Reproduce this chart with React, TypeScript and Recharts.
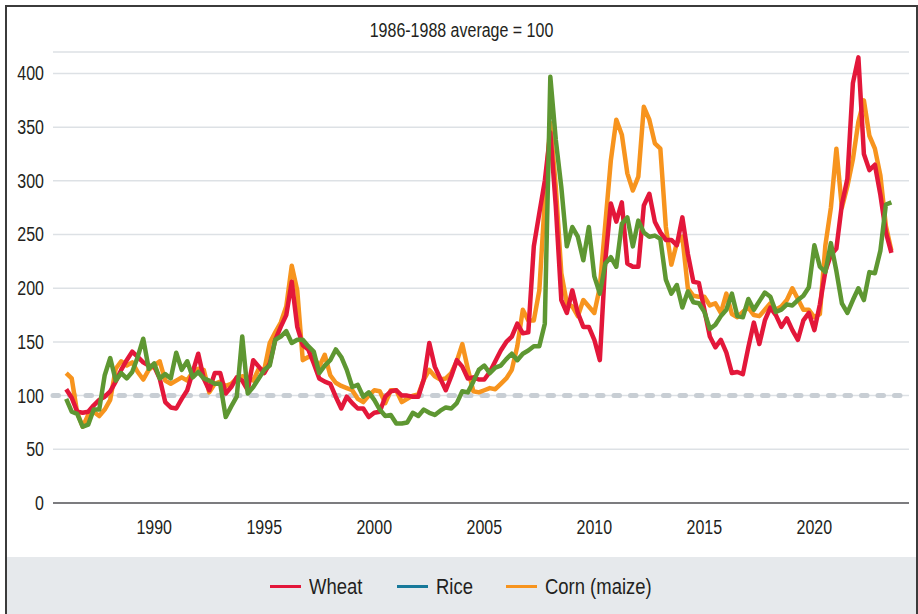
import { LineChart, Line, XAxis, YAxis, CartesianGrid, ReferenceLine } from "recharts";

// one row per year, four quarterly readings (2023 ends after Q3)
const years = [
  1986, 1987, 1988, 1989, 1990, 1991, 1992, 1993, 1994, 1995, 1996, 1997, 1998,
  1999, 2000, 2001, 2002, 2003, 2004, 2005, 2006, 2007, 2008, 2009, 2010, 2011,
  2012, 2013, 2014, 2015, 2016, 2017, 2018, 2019, 2020, 2021, 2022, 2023,
];

const wheat = [
  [106, 98, 85, 84], [85, 91, 96, 99], [104, 113, 124, 133], [141, 136, 131, 128],
  [127, 116, 94, 89], [88, 97, 105, 122], [139, 116, 105, 121], [121, 102, 108, 117],
  [114, 105, 133, 127], [121, 130, 152, 164], [175, 206, 164, 147], [143, 130, 116, 113],
  [111, 99, 88, 99], [93, 88, 88, 80], [84, 85, 99, 104], [105, 100, 100, 99],
  [99, 115, 149, 127], [116, 105, 118, 133], [127, 116, 117, 115], [115, 122, 132, 142],
  [150, 155, 167, 158], [159, 239, 270, 300], [345, 276, 189, 177], [198, 177, 164, 164],
  [152, 133, 226, 279], [262, 280, 223, 220], [220, 277, 288, 262], [252, 245, 245, 240],
  [266, 232, 206, 205], [180, 155, 145, 152], [140, 121, 122, 120], [145, 168, 148, 170],
  [182, 175, 164, 172], [161, 152, 170, 177], [161, 185, 216, 231], [237, 278, 302, 391],
  [415, 325, 310, 315], [287, 252, 233],
];

const rice = [
  [97, 85, 83, 71], [73, 87, 87, 119], [135, 114, 121, 116], [122, 136, 153, 125],
  [130, 116, 120, 116], [140, 124, 132, 117], [122, 116, 114, 111], [111, 80, 90, 99],
  [155, 102, 108, 116], [124, 128, 152, 155], [160, 149, 152, 152], [146, 141, 121, 128],
  [133, 143, 136, 124], [108, 110, 99, 103], [96, 87, 81, 82], [74, 74, 75, 84],
  [81, 87, 84, 82], [86, 89, 88, 93], [104, 103, 113, 124], [128, 121, 126, 128],
  [134, 139, 133, 139], [142, 146, 146, 167], [397, 338, 294, 239], [257, 248, 226, 257],
  [211, 195, 223, 229], [220, 260, 266, 239], [263, 252, 248, 249], [246, 208, 195, 203],
  [182, 197, 187, 186], [178, 162, 166, 174], [180, 195, 174, 173], [190, 180, 188, 196],
  [192, 178, 180, 185], [184, 189, 193, 201], [240, 220, 215, 242], [216, 186, 177, 189],
  [200, 189, 215, 214], [235, 278, 280],
];

const corn = [
  [121, 116, 84, 71], [82, 85, 81, 87], [96, 125, 132, 128], [131, 122, 115, 124],
  [128, 132, 114, 111], [114, 117, 114, 122], [125, 124, 103, 111], [113, 109, 111, 116],
  [118, 117, 114, 125], [124, 149, 159, 168], [183, 221, 198, 133], [136, 136, 127, 138],
  [119, 112, 109, 107], [105, 97, 94, 100], [105, 104, 93, 105], [105, 94, 97, 100],
  [101, 115, 124, 118], [115, 116, 121, 132], [148, 125, 104, 103], [105, 107, 106, 111],
  [116, 124, 146, 180], [170, 170, 198, 282], [354, 294, 214, 186], [183, 174, 189, 183],
  [177, 201, 260, 319], [357, 343, 307, 291], [304, 369, 357, 335], [330, 257, 222, 242],
  [248, 200, 193, 192], [192, 184, 186, 177], [195, 176, 173, 178], [182, 175, 174, 180],
  [186, 180, 183, 189], [200, 190, 180, 180], [173, 176, 240, 275], [330, 275, 295, 320],
  [355, 375, 342, 330], [305, 258, 235],
];

const yTicks = [0, 50, 100, 150, 200, 250, 300, 350, 400];
const xTicks = [1990, 1995, 2000, 2005, 2010, 2015, 2020];

const WHEAT = "#e3173a";
const CORN = "#f7941e";
const RICE_LINE = "#5e9732";
const RICE_KEY = "#17799a";
const INK = "#231f20";
const FONT = "'Liberation Sans', Arial, sans-serif";
const NARROW = 0.82; // Arial Narrow look-alike

const data = years.flatMap((y, i) =>
  wheat[i].map((w, q) => ({
    year: y + q / 4,
    wheat: w,
    rice: rice[i][q],
    corn: corn[i][q],
  }))
);

const legendItems = [
  { label: "Wheat", color: WHEAT, left: 270 },
  { label: "Rice", color: RICE_KEY, left: 397 },
  { label: "Corn (maize)", color: CORN, left: 506 },
];

function NarrowTick(props: any) {
  const { x, y, payload, textAnchor, verticalAnchor } = props;
  const dy = verticalAnchor === "middle" ? "0.355em" : "0.71em";
  return (
    <text
      x={x}
      y={y}
      dy={dy}
      textAnchor={textAnchor}
      fill={INK}
      fontSize={19.5}
      fontFamily={FONT}
      transform={`translate(${x} ${y}) scale(${NARROW} 1) translate(${-x} ${-y})`}
    >
      {payload.value}
    </text>
  );
}

export default function App() {
  return (
    <div
      style={{
        position: "absolute",
        left: 0,
        top: 0,
        width: 918,
        height: 614,
        overflow: "hidden",
        background: "#fff",
        fontFamily: FONT,
        color: INK,
      }}
    >
      <div
        style={{
          position: "absolute",
          left: 5,
          top: 5,
          width: 913,
          height: 640,
          boxSizing: "border-box",
          border: "2px solid #3b3b3b",
        }}
      />
      <div
        style={{
          position: "absolute",
          left: 7,
          top: 557,
          width: 909,
          height: 57,
          background: "#e6e9ec",
        }}
      />
      {legendItems.map((it) => (
        <div key={it.label}>
          <span
            style={{
              position: "absolute",
              left: it.left,
              top: 585,
              width: 31,
              height: 3,
              background: it.color,
            }}
          />
          <span
            style={{
              position: "absolute",
              left: it.left + 39,
              top: 574,
              fontSize: 22.5,
              lineHeight: "26px",
              whiteSpace: "nowrap",
              transform: `scaleX(${NARROW})`,
              transformOrigin: "left center",
            }}
          >
            {it.label}
          </span>
        </div>
      ))}
      <div
        style={{
          position: "absolute",
          left: 5,
          width: 913,
          top: 18,
          textAlign: "center",
          fontSize: 19.5,
          lineHeight: "24px",
          transform: `scaleX(${NARROW})`,
        }}
      >
        1986-1988 average = 100
      </div>
      <div style={{ position: "absolute", left: 0, top: 0 }}>
        <LineChart
          width={918}
          height={557}
          data={data}
          margin={{ top: 52, right: 9, bottom: 14, left: 8 }}
        >
          <CartesianGrid vertical={false} stroke="#dde1e5" strokeWidth={1.5} />
          <XAxis
            type="number"
            dataKey="year"
            domain={[1985.4, 2024.3]}
            ticks={xTicks}
            height={40}
            tickLine={false}
            tickSize={0}
            tickMargin={17}
            axisLine={{ stroke: "#58595b", strokeWidth: 1.5 }}
            tick={<NarrowTick />}
          />
          <YAxis
            domain={[0, 420]}
            ticks={yTicks}
            width={45}
            axisLine={false}
            tickLine={false}
            tickSize={0}
            tickMargin={9}
            tick={<NarrowTick />}
          />
          <ReferenceLine
            y={100}
            stroke="#c8ced4"
            strokeWidth={5}
            strokeLinecap="round"
            strokeDasharray="5.5 11"
          />
          <Line
            dataKey="corn"
            stroke={CORN}
            strokeWidth={4.5}
            dot={false}
            type="linear"
            strokeLinejoin="round"
            isAnimationActive={false}
          />
          <Line
            dataKey="wheat"
            stroke={WHEAT}
            strokeWidth={4.5}
            dot={false}
            type="linear"
            strokeLinejoin="round"
            isAnimationActive={false}
          />
          <Line
            dataKey="rice"
            stroke={RICE_LINE}
            strokeWidth={4.5}
            dot={false}
            type="linear"
            strokeLinejoin="round"
            isAnimationActive={false}
          />
        </LineChart>
      </div>
    </div>
  );
}
